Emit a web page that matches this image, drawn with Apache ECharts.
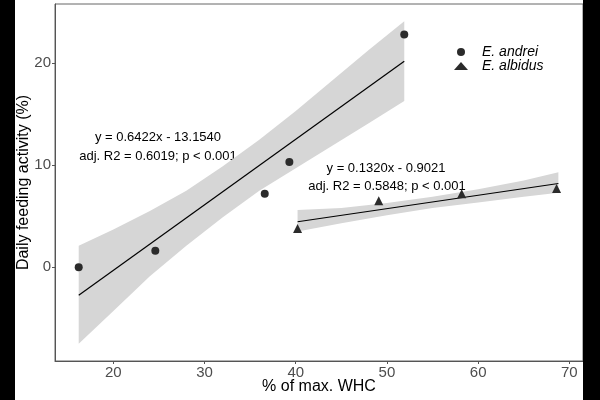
<!DOCTYPE html>
<html>
<head>
<meta charset="utf-8">
<script src="https://cdn.jsdelivr.net/npm/echarts@6/dist/echarts.min.js"></script>
<style>
  html, body { margin: 0; padding: 0; background: #fff; }
  #container { width: 600px; height: 400px; }
</style>
</head>
<body>
<div id="container"></div>
<script>
// data
var andreiPoints = [[16.2, 0], [24.6, 1.6], [36.6, 7.2], [39.3, 10.3], [51.9, 22.8]];
var albidusPoints = [[40.2, 3.8], [49.1, 6.5], [58.2, 7.2], [68.6, 7.7]];

// fitted lines (end points)
var andreiFit = [[16.2, -2.75], [51.9, 20.18]];
var albidusFit = [[40.2, 4.45], [68.8, 8.2]];

// confidence bands: x, lower, upper
var andreiBandX = [16.2, 20, 24, 28, 32, 36, 40, 44, 48, 51.9];
var andreiBandLo = [-7.5, -4.3, -0.9, 2.1, 4.9, 7.5, 9.7, 11.9, 14.1, 16.3];
var andreiBandHi = [2.1, 3.7, 5.5, 7.5, 9.9, 12.5, 15.3, 18.3, 21.3, 24.1];

var albidusBandX = [40.2, 45, 50, 55, 60, 65, 68.8];
var albidusBandLo = [3.5, 4.3, 5.1, 5.8, 6.35, 6.9, 7.3];
var albidusBandHi = [5.6, 5.8, 6.3, 6.9, 7.65, 8.5, 9.3];

var xTicks = [20, 30, 40, 50, 60, 70];
var yTicks = [0, 10, 20];

var FONT = 'Liberation Sans, Arial, sans-serif';
var bandColor = '#d6d6d6';
var pointColor = '#2b2b2b';

var dom = document.getElementById('container');
var myChart = echarts.init(dom);

function bandSeries(xs, lo, hi) {
    return {
        type: 'custom',
        silent: true,
        z: 1,
        data: xs.map(function (x, i) { return [x, lo[i], hi[i]]; }),
        encode: { x: 0, y: [1, 2] },
        renderItem: function (params, api) {
            if (params.dataIndex !== 0) return;
            var pts = [];
            for (var i = 0; i < xs.length; i++) pts.push(api.coord([xs[i], hi[i]]));
            for (var j = xs.length - 1; j >= 0; j--) pts.push(api.coord([xs[j], lo[j]]));
            return { type: 'polygon', shape: { points: pts }, style: { fill: bandColor } };
        }
    };
}

function fitSeries(data) {
    return {
        type: 'line',
        data: data,
        z: 2,
        silent: true,
        showSymbol: false,
        lineStyle: { color: '#000', width: 1.2 }
    };
}

function annotation(x, y, text) {
    return {
        type: 'text', x: x, y: y,
        style: { text: text, fontFamily: FONT, fontSize: 13, fill: '#000', align: 'center', verticalAlign: 'middle' }
    };
}

var option = {
    backgroundColor: '#fff',
    animation: false,
    grid: {
        left: 55, top: 4, right: 17, bottom: 38,
        show: true, borderColor: '#666', borderWidth: 1
    },
    legend: {
        data: ['E. andrei', 'E. albidus'],
        orient: 'vertical',
        left: 449,
        top: 40,
        itemWidth: 14,
        itemHeight: 8,
        itemGap: 0,
        textStyle: {
            fontFamily: FONT, fontSize: 14, fontStyle: 'italic', color: '#000',
            lineHeight: 14, padding: [0, 0, 0, 9]
        }
    },
    xAxis: {
        type: 'value',
        min: 13.6, max: 71.5,
        name: '% of max. WHC',
        nameLocation: 'middle',
        nameGap: 18,
        nameMoveOverlap: false,
        nameTextStyle: { fontFamily: FONT, fontSize: 16, color: '#000' },
        axisLine: { onZero: false, lineStyle: { color: '#555' } },
        axisTick: { customValues: xTicks, length: 3, lineStyle: { color: '#555' } },
        axisLabel: { customValues: xTicks, margin: 4, fontFamily: FONT, fontSize: 15, color: '#4d4d4d' },
        splitLine: { show: false }
    },
    yAxis: {
        type: 'value',
        min: -9.2, max: 25.8,
        name: 'Daily feeding activity (%)',
        nameLocation: 'middle',
        nameGap: 23,
        nameMoveOverlap: false,
        nameTextStyle: { fontFamily: FONT, fontSize: 16, color: '#000' },
        axisLine: { show: true, onZero: false, lineStyle: { color: '#555' } },
        axisTick: { show: true, customValues: yTicks, length: 3, lineStyle: { color: '#555' } },
        axisLabel: { customValues: yTicks, margin: 4, fontFamily: FONT, fontSize: 15, color: '#4d4d4d' },
        splitLine: { show: false }
    },
    graphic: [
        { type: 'rect', shape: { x: 0, y: 0, width: 15, height: 400 }, style: { fill: '#000' }, z: 100 },
        { type: 'rect', shape: { x: 583, y: 0, width: 17, height: 400 }, style: { fill: '#000' }, z: 100 },
        annotation(158, 137, 'y = 0.6422x - 13.1540'),
        annotation(158, 156, 'adj. R2 = 0.6019; p < 0.001'),
        annotation(386, 168, 'y = 0.1320x - 0.9021'),
        annotation(387, 186, 'adj. R2 = 0.5848; p < 0.001')
    ],
    series: [
        bandSeries(andreiBandX, andreiBandLo, andreiBandHi),
        bandSeries(albidusBandX, albidusBandLo, albidusBandHi),
        fitSeries(andreiFit),
        fitSeries(albidusFit),
        {
            name: 'E. andrei',
            type: 'scatter',
            z: 3,
            symbol: 'circle',
            symbolSize: 8,
            itemStyle: { color: pointColor, opacity: 1 },
            data: andreiPoints
        },
        {
            name: 'E. albidus',
            type: 'scatter',
            z: 3,
            symbol: 'triangle',
            symbolSize: 9,
            itemStyle: { color: pointColor, opacity: 1 },
            data: albidusPoints
        }
    ]
};

myChart.setOption(option, true);
</script>
</body>
</html>
